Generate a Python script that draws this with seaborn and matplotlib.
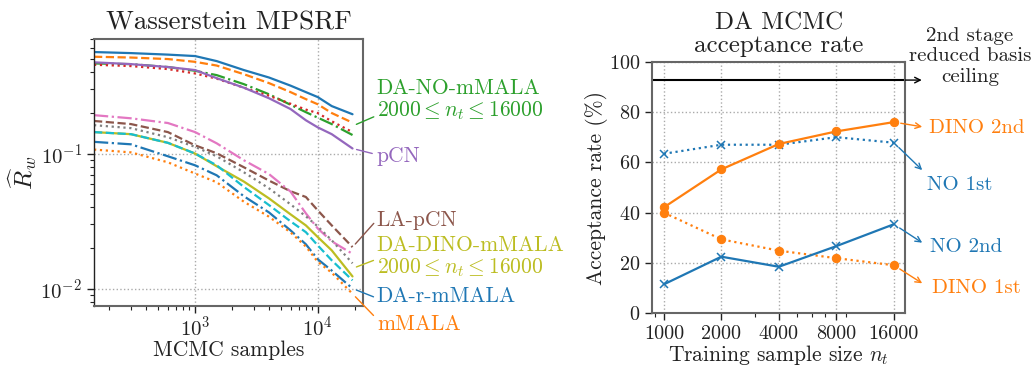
import numpy as np
import matplotlib
matplotlib.use("Agg")
import matplotlib.pyplot as plt
import seaborn as sns
from matplotlib.ticker import NullFormatter

# ---- Wasserstein MPSRF vs. number of MCMC samples ----
samples = [150, 300, 600, 1000, 1500, 2500, 4000, 6000, 8000, 10000, 13000, 19200]

no_2000 = [0.561, 0.551, 0.537, 0.524, 0.481, 0.413, 0.364, 0.317, 0.284, 0.261, 0.224, 0.195]
no_4000 = [0.518, 0.511, 0.498, 0.475, 0.446, 0.385, 0.331, 0.284, 0.252, 0.231, 0.199, 0.169]
no_8000 = [0.462, 0.457, 0.435, 0.408, 0.379, 0.325, 0.274, 0.229, 0.202, 0.184, 0.165, 0.137]
no_16000 = [0.452, 0.442, 0.420, 0.390, 0.357, 0.306, 0.267, 0.233, 0.211, 0.199, 0.173, 0.144]
pcn = [0.471, 0.457, 0.435, 0.413, 0.360, 0.306, 0.256, 0.213, 0.176, 0.156, 0.139, 0.109]
la_pcn = [0.174, 0.165, 0.144, 0.115, 0.1005, 0.0792, 0.0632, 0.0527, 0.0478, 0.0381, 0.0295, 0.0204]
dino_2000 = [0.192, 0.182, 0.168, 0.144, 0.119, 0.0892, 0.0706, 0.0524, 0.0362, 0.0280, 0.0225, 0.0182]
dino_4000 = [0.162, 0.154, 0.132, 0.112, 0.0955, 0.0727, 0.0554, 0.0422, 0.0344, 0.0290, 0.0229, 0.0155]
dino_8000 = [0.144, 0.139, 0.120, 0.100, 0.0806, 0.0621, 0.0467, 0.0356, 0.0295, 0.0242, 0.0193, 0.0124]
dino_16000 = [0.144, 0.139, 0.120, 0.100, 0.0819, 0.0567, 0.0417, 0.0316, 0.0263, 0.0210, 0.0163, 0.0116]
r_mmala = [0.122, 0.117, 0.0955, 0.0819, 0.0691, 0.0484, 0.0368, 0.0271, 0.0214, 0.0166, 0.0137, 0.0101]
mmala = [0.107, 0.102, 0.0862, 0.0712, 0.0614, 0.0441, 0.0342, 0.0262, 0.0206, 0.0159, 0.0132, 0.00923]

# ---- DA MCMC acceptance rates vs. training sample size ----
n_train = [1000, 2000, 4000, 8000, 16000]
no_1st = [63.4, 67.0, 67.0, 70.0, 67.8]
no_2nd = [11.5, 22.5, 18.5, 26.7, 35.4]
dino_1st = [40.0, 29.4, 24.9, 21.9, 19.1]
dino_2nd = [42.1, 57.2, 67.3, 72.3, 76.0]
ceiling = 92.7

sns.set_style("ticks")
plt.rcParams.update({
    "font.family": "serif",
    "font.serif": ["cmr10"],
    "mathtext.fontset": "cm",
    "axes.formatter.use_mathtext": True,
    "axes.unicode_minus": False,
    "text.color": "#222222",
    "xtick.color": "#222222",
    "ytick.color": "#222222",
    "axes.labelcolor": "#222222",
})

pal = sns.color_palette("tab10")
styles = ["-", "--", "-.", ":"]
blue, orange, green = pal[0], pal[1], pal[2]
purple, brown, olive = pal[4], pal[5], pal[8]
spine_gray = "#666666"

fig = plt.figure(figsize=(10.32, 3.66), dpi=100)
ax1 = fig.add_axes([0.0911, 0.1639, 0.2607, 0.7295])
ax2 = fig.add_axes([0.6321, 0.1440, 0.2452, 0.6874])

# ---------------- left panel ----------------
ax1.set_xscale("log")
ax1.set_yscale("log")
left_series = [no_2000, no_4000, no_8000, no_16000, pcn, la_pcn,
               dino_2000, dino_4000, dino_8000, dino_16000, r_mmala, mmala]
for i, vals in enumerate(left_series):
    sns.lineplot(x=samples, y=vals, ax=ax1, color=pal[i % 10],
                 linestyle=styles[i % 4], lw=1.6)

ax1.set_xlim(150, 23400)
ax1.set_ylim(0.0075, 0.70)
ax1.grid(True, which="major", linestyle=":", color="#aaaaaa", lw=1)
ax1.tick_params(axis="both", which="major", labelsize=15, length=5, width=1)
ax1.tick_params(axis="x", which="major", pad=2)
ax1.tick_params(axis="both", which="minor", length=3, width=0.8)
ax1.set_title("Wasserstein MPSRF", fontsize=19.5, pad=7)
ax1.set_xlabel("MCMC samples", fontsize=15.5)
ax1.set_ylabel(r"$\widehat{R}_w$", fontsize=18)
ax1.xaxis.set_label_coords(0.5, -0.128)
ax1.yaxis.set_label_coords(-0.205, 0.5)
for side in ["top", "right", "bottom"]:
    ax1.spines[side].set_color(spine_gray)
    ax1.spines[side].set_linewidth(1.5)
ax1.spines["left"].set_color("#222222")
ax1.spines["left"].set_linewidth(1.0)

x_end = samples[-1]


def geo_mean(vals):
    return float(np.exp(np.mean(np.log(vals))))


def side_label(ax, anchor_y, text, color, head, pos, fs=15.5):
    ax.annotate("", xy=(x_end, anchor_y), xytext=head, textcoords="offset points",
                arrowprops=dict(arrowstyle="-", color=color, lw=1.0,
                                shrinkA=0, shrinkB=3),
                annotation_clip=False)
    ax.annotate(text, xy=(x_end, anchor_y), xytext=pos, textcoords="offset points",
                color=color, fontsize=fs, ha="left", va="center",
                linespacing=1.05, annotation_clip=False)


no_group = geo_mean([no_2000[-1], no_4000[-1], no_8000[-1], no_16000[-1]])
dino_group = geo_mean([dino_2000[-1], dino_4000[-1], dino_8000[-1], dino_16000[-1]])
side_label(ax1, no_group, "DA-NO-mMALA\n$2000 \\leq n_t \\leq 16000$", green,
           (15.3, 6.6), (17.5, 18.5))
side_label(ax1, pcn[-1], "pCN", purple, (14.2, -3.6), (17.5, -5.5))
side_label(ax1, la_pcn[-1], "LA-pCN", brown, (15.3, 17.1), (17.5, 19.7))
side_label(ax1, dino_group, "DA-DINO-mMALA\n$2000 \\leq n_t \\leq 16000$", olive,
           (15.1, 5.8), (17.5, 8.0))
side_label(ax1, r_mmala[-1], "DA-r-mMALA", blue, (15.1, -6.0), (17.5, -5.5))
side_label(ax1, mmala[-1], "mMALA", orange, (15.1, -15.6), (17.5, -21.6))

# ---------------- right panel ----------------
ax2.set_xscale("log")
sns.lineplot(x=n_train, y=no_1st, ax=ax2, color=blue, linestyle=":", lw=1.6,
             marker="x", markersize=5.5, markeredgewidth=1.1, markeredgecolor=blue)
sns.lineplot(x=n_train, y=dino_1st, ax=ax2, color=orange, linestyle=":", lw=1.6,
             marker="o", markersize=6, markeredgecolor=orange)
sns.lineplot(x=n_train, y=no_2nd, ax=ax2, color=blue, linestyle="-", lw=1.6,
             marker="x", markersize=5.5, markeredgewidth=1.1, markeredgecolor=blue)
sns.lineplot(x=n_train, y=dino_2nd, ax=ax2, color=orange, linestyle="-", lw=1.6,
             marker="o", markersize=6, markeredgecolor=orange)
ax2.axhline(ceiling, color="black", lw=1.5)

ax2.set_ylim(0, 100)
ax2.set_yticks([0, 20, 40, 60, 80, 100])
ax2.set_xticks(n_train)
ax2.set_xticklabels([str(n) for n in n_train])
ax2.xaxis.set_minor_formatter(NullFormatter())
ax2.grid(True, which="major", linestyle=":", color="#aaaaaa", lw=1)
ax2.tick_params(axis="both", which="major", labelsize=14.5, length=5, width=1)
ax2.tick_params(axis="x", which="minor", length=3, width=0.8)
ax2.set_title("DA MCMC\nacceptance rate", fontsize=18, linespacing=1.0, pad=7)
ax2.set_xlabel("Training sample size $n_t$", fontsize=15.5)
ax2.set_ylabel("Acceptance rate (%)", fontsize=15.5)
ax2.xaxis.set_label_coords(0.5, -0.12)
ax2.yaxis.set_label_coords(-0.175, 0.5)
for side in ["top", "right", "bottom", "left"]:
    ax2.spines[side].set_color(spine_gray)
    ax2.spines[side].set_linewidth(1.5)


def rate_label(y, text, color, head, pos):
    ax2.annotate("", xy=(n_train[-1], y), xytext=head, textcoords="offset points",
                 arrowprops=dict(arrowstyle="<-", color=color, lw=1.0,
                                 shrinkA=0, shrinkB=5),
                 annotation_clip=False)
    ax2.annotate(text, xy=(n_train[-1], y), xytext=pos, textcoords="offset points",
                 color=color, fontsize=15, ha="left", va="center",
                 annotation_clip=False)


rate_label(dino_2nd[-1], "DINO 2nd", orange, (20.4, -3.4), (25.0, -4.3))
rate_label(no_1st[-1], "NO 1st", blue, (20.4, -19.7), (24.0, -30.5))
rate_label(no_2nd[-1], "NO 2nd", blue, (20.4, -13.3), (26.0, -16.6))
rate_label(dino_1st[-1], "DINO 1st", orange, (20.4, -13.0), (27.6, -16.6))

# ceiling arrow and caption
ax2.annotate("", xy=(1.0, ceiling), xycoords=("axes fraction", "data"),
             xytext=(11.8, 0), textcoords="offset points",
             arrowprops=dict(arrowstyle="<-", color="black", lw=1.0,
                             shrinkA=0, shrinkB=0),
             annotation_clip=False)
ax2.annotate("2nd stage\nreduced basis\nceiling", xy=(1.0, ceiling),
             xycoords=("axes fraction", "data"), xytext=(46.6, 17.0),
             textcoords="offset points", ha="center", va="center",
             fontsize=15, linespacing=1.15, annotation_clip=False)

fig.savefig("out.png", dpi=100)
